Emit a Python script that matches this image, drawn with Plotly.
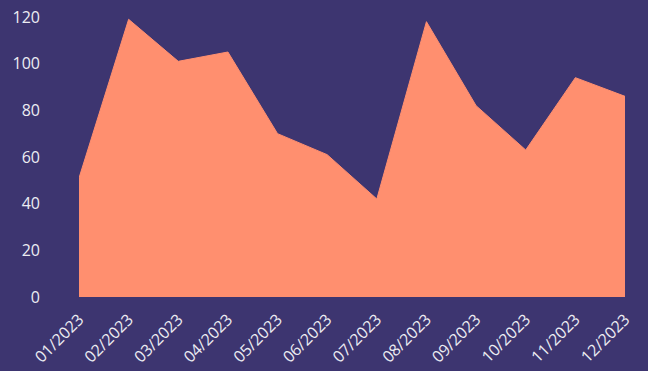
import plotly.graph_objects as go

# Monthly values for 2023
months = ["01/2023", "02/2023", "03/2023", "04/2023", "05/2023", "06/2023",
          "07/2023", "08/2023", "09/2023", "10/2023", "11/2023", "12/2023"]
values = [51, 119, 101, 105, 70, 61, 42, 118, 82, 63, 94, 86]
y_ticks = [0, 20, 40, 60, 80, 100, 120]

BG = "#3d3570"
FILL = "#ff8f6f"

fig = go.Figure(
    go.Scatter(
        x=months,
        y=values,
        mode="lines",
        fill="tozeroy",
        fillcolor=FILL,
        line=dict(color=FILL, width=1),
        hoverinfo="x+y",
    )
)

fig.update_layout(
    width=648,
    height=371,
    paper_bgcolor=BG,
    plot_bgcolor=BG,
    margin=dict(l=79, r=23, t=17, b=74),
    showlegend=False,
    font=dict(family="Open Sans, sans-serif", size=16, color="#ececf2"),
)
fig.update_xaxes(
    type="category",
    tickangle=-45,
    showgrid=False,
    zeroline=False,
    showline=False,
    ticks="",
    range=[0, len(months) - 1],
    ticklabelstandoff=9,
    automargin=False,
)
fig.update_yaxes(
    range=[0, 120],
    tickvals=y_ticks,
    showgrid=False,
    zeroline=False,
    showline=False,
    ticks="",
    ticklabelstandoff=38,
    automargin=False,
)

fig.write_html("out.html")
